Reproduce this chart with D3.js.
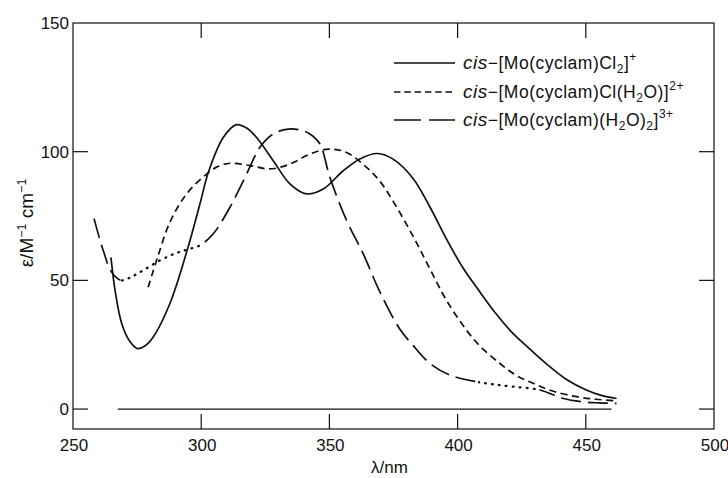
<!DOCTYPE html>
<html><head><meta charset="utf-8">
<script src="https://cdn.jsdelivr.net/npm/d3@7"></script>
<style>body{margin:0;background:#fff}svg{display:block}text{font-family:"Liberation Sans",Arial,sans-serif;fill:#111}</style>
</head><body><svg id="c" width="728" height="478"></svg>
<script>
// ---- data ----
const xTicks = [250, 300, 350, 400, 450, 500];
const yTicks = [0, 50, 100, 150];

const cl2Nm  = [264.8, 266.4, 269, 272, 275.1, 278, 281.3, 287.8, 294.5, 299.5, 302.8, 308.6, 313.8, 318, 321.6, 328.1, 334.6, 341.1, 347.6, 355.4, 361.9, 368.7, 375, 382.7, 389.2, 395.7, 402, 408.7, 415, 421, 428, 435, 442.5, 450, 456, 462];
const cl2Eps = [58.9, 46.1, 33.2, 26.5, 23.5, 24.5, 28, 41, 61.6, 79.7, 92, 105.5, 110.5, 109, 105.5, 96.5, 87.5, 83.6, 85.5, 92.6, 97.2, 99.3, 97, 89.5, 78.5, 66, 55, 45.5, 37, 30, 23.5, 17.3, 11.5, 7.5, 5.3, 4.1];

const claqNm  = [279.3, 283, 287.8, 294.3, 302.1, 306, 311.2, 319, 326.8, 334.6, 342.4, 349.6, 356.7, 364.5, 369.7, 375, 382.7, 389.2, 395.7, 403.5, 408.7, 416.5, 423, 429.5, 437, 446.4, 454, 462];
const claqEps = [47.3, 59, 72.6, 83.6, 91.3, 94, 95.5, 94.6, 93.3, 95.2, 99.1, 101, 99.7, 93.9, 88.5, 80.5, 67, 54.5, 42.2, 30.6, 24.5, 17.7, 13, 10, 7, 4.8, 3.8, 3.2];

const aq2Nm  = [258.2, 261.8, 265.1, 269, 273, 277.4, 284, 290, 294.3, 299.5, 304.7, 311.2, 317.1, 322.9, 328.1, 334, 339, 342.4, 346.3, 350.2, 356.7, 363.2, 369.7, 377.5, 382.4, 389.2, 397, 407.4, 414, 421.7, 432.1, 441.2, 449, 455, 462];
const aq2Eps = [74, 61.6, 53.2, 50, 51.5, 53.9, 57.8, 60.5, 61.9, 63.6, 68.1, 78.4, 90, 101.7, 106.9, 108.8, 108.3, 106.9, 103, 90, 73.3, 60.3, 45.5, 31, 25, 17.7, 13.2, 10.6, 9.6, 8.7, 7.4, 4.1, 2.8, 2.4, 2.2];
const aq2Dotted = [[268.5, 300], [408, 432]];   // wavelength ranges drawn dotted

const baseline = [267.5, 460];  // zero line extent (nm)

// ---- layout ----
const svg = d3.select("#c");
const L = 73, R = 714, T = 23, B = 429;
const x = d3.scaleLinear().domain([250, 500]).range([L, R]);
const y = d3.scaleLinear().domain([-7.75, 150]).range([B, T]);
const ink = "#111";

// frame
svg.append("rect").attr("x", L).attr("y", T).attr("width", R - L).attr("height", B - T)
  .attr("fill", "none").attr("stroke", ink).attr("stroke-width", 1.2);

const tl = 15;
const innerX = xTicks.filter(d => d > 250 && d < 500);
svg.append("g").selectAll("line").data(innerX).join("line")
  .attr("x1", d => x(d)).attr("x2", d => x(d)).attr("y1", B).attr("y2", B - tl)
  .attr("stroke", ink).attr("stroke-width", 1.2);
svg.append("g").selectAll("line").data(innerX).join("line")
  .attr("x1", d => x(d)).attr("x2", d => x(d)).attr("y1", T).attr("y2", T + tl)
  .attr("stroke", ink).attr("stroke-width", 1.2);
const innerY = yTicks.filter(d => d < 150);
svg.append("g").selectAll("line").data(innerY).join("line")
  .attr("x1", L).attr("x2", L + tl).attr("y1", d => y(d)).attr("y2", d => y(d))
  .attr("stroke", ink).attr("stroke-width", 1.2);
svg.append("g").selectAll("line").data(innerY).join("line")
  .attr("x1", R).attr("x2", R - tl).attr("y1", d => y(d)).attr("y2", d => y(d))
  .attr("stroke", ink).attr("stroke-width", 1.2);

// tick labels
svg.append("g").selectAll("text").data(xTicks).join("text")
  .attr("x", d => x(d) + 1).attr("y", 451).attr("text-anchor", "middle")
  .style("font-size", "17px").text(d => d);
svg.append("g").selectAll("text").data(yTicks).join("text")
  .attr("x", 69).attr("y", d => y(d)).attr("dy", "0.36em").attr("text-anchor", "end")
  .style("font-size", "17px").text(d => d);

// axis titles
svg.append("text").attr("x", x(375) - 4).attr("y", 473).attr("text-anchor", "middle")
  .style("font-size", "17px").text("λ/nm");
const yt = svg.append("text").attr("transform", "translate(33,223) rotate(-90)")
  .attr("text-anchor", "middle").style("font-size", "19px");
yt.append("tspan").text("ε/M");
yt.append("tspan").attr("dy", -7).style("font-size", "12.5px").text("−1");
yt.append("tspan").attr("dy", 7).text(" cm");
yt.append("tspan").attr("dy", -7).style("font-size", "12.5px").text("−1");

// baseline
svg.append("line").attr("x1", x(baseline[0])).attr("x2", x(baseline[1]))
  .attr("y1", y(0)).attr("y2", y(0)).attr("stroke", ink).attr("stroke-width", 1.2);

// curves
const line = d3.line().x(d => x(d[0])).y(d => y(d[1])).curve(d3.curveCatmullRom.alpha(0.5));
const zip = (a, b) => a.map((v, i) => [v, b[i]]);

svg.append("path").datum(zip(cl2Nm, cl2Eps)).attr("d", line)
  .attr("fill", "none").attr("stroke", ink).attr("stroke-width", 1.7);
svg.append("path").datum(zip(claqNm, claqEps)).attr("d", line)
  .attr("fill", "none").attr("stroke", ink).attr("stroke-width", 1.7).attr("stroke-dasharray", "7,4.5");

// long-dash with dotted portions via clip paths
const defs = svg.append("defs");
const dotClip = defs.append("clipPath").attr("id", "dotclip");
dotClip.selectAll("rect").data(aq2Dotted).join("rect")
  .attr("x", d => x(d[0])).attr("width", d => x(d[1]) - x(d[0])).attr("y", T).attr("height", B - T);
const dashRanges = [[250, aq2Dotted[0][0]], [aq2Dotted[0][1], aq2Dotted[1][0]], [aq2Dotted[1][1], 500]];
const dashClip = defs.append("clipPath").attr("id", "dashclip");
dashClip.selectAll("rect").data(dashRanges).join("rect")
  .attr("x", d => x(d[0])).attr("width", d => x(d[1]) - x(d[0])).attr("y", T).attr("height", B - T);
const aq2 = zip(aq2Nm, aq2Eps);
svg.append("path").datum(aq2).attr("d", line).attr("clip-path", "url(#dashclip)")
  .attr("fill", "none").attr("stroke", ink).attr("stroke-width", 1.7).attr("stroke-dasharray", "20,7");
svg.append("path").datum(aq2).attr("d", line).attr("clip-path", "url(#dotclip)")
  .attr("fill", "none").attr("stroke", ink).attr("stroke-width", 2.3)
  .attr("stroke-linecap", "round").attr("stroke-dasharray", "0.8,6.2");

// legend
const legend = [
  {dash: null, parts: [["cis", "i"], ["−[Mo(cyclam)Cl"], ["2", "sub"], ["]"], ["+", "sup"]]},
  {dash: "6.5,3.8", parts: [["cis", "i"], ["−[Mo(cyclam)Cl(H"], ["2", "sub"], ["O)]"], ["2+", "sup"]]},
  {dash: "27,8", parts: [["cis", "i"], ["−[Mo(cyclam)(H"], ["2", "sub"], ["O)"], ["2", "sub"], ["]"], ["3+", "sup"]]}
];
const legY = [63, 92, 120];
legend.forEach((item, i) => {
  const yy = legY[i];
  svg.append("line").attr("x1", 394).attr("x2", 455).attr("y1", yy).attr("y2", yy)
    .attr("stroke", ink).attr("stroke-width", 1.6).attr("stroke-dasharray", item.dash);
  const t = svg.append("text").attr("x", 463).attr("y", yy + 6).style("font-size", "17.5px")
    .style("letter-spacing", "0.5px");
  let shift = 0;
  item.parts.forEach(([s, k]) => {
    const target = k === "sub" ? 4 : k === "sup" ? -8 : 0;
    const ts = t.append("tspan").attr("dy", target - shift).text(s);
    shift = target;
    if (k === "i") ts.style("font-style", "italic").style("font-size", "19px");
    if (k === "sub" || k === "sup") ts.style("font-size", "12px");
  });
});
</script></body></html>
